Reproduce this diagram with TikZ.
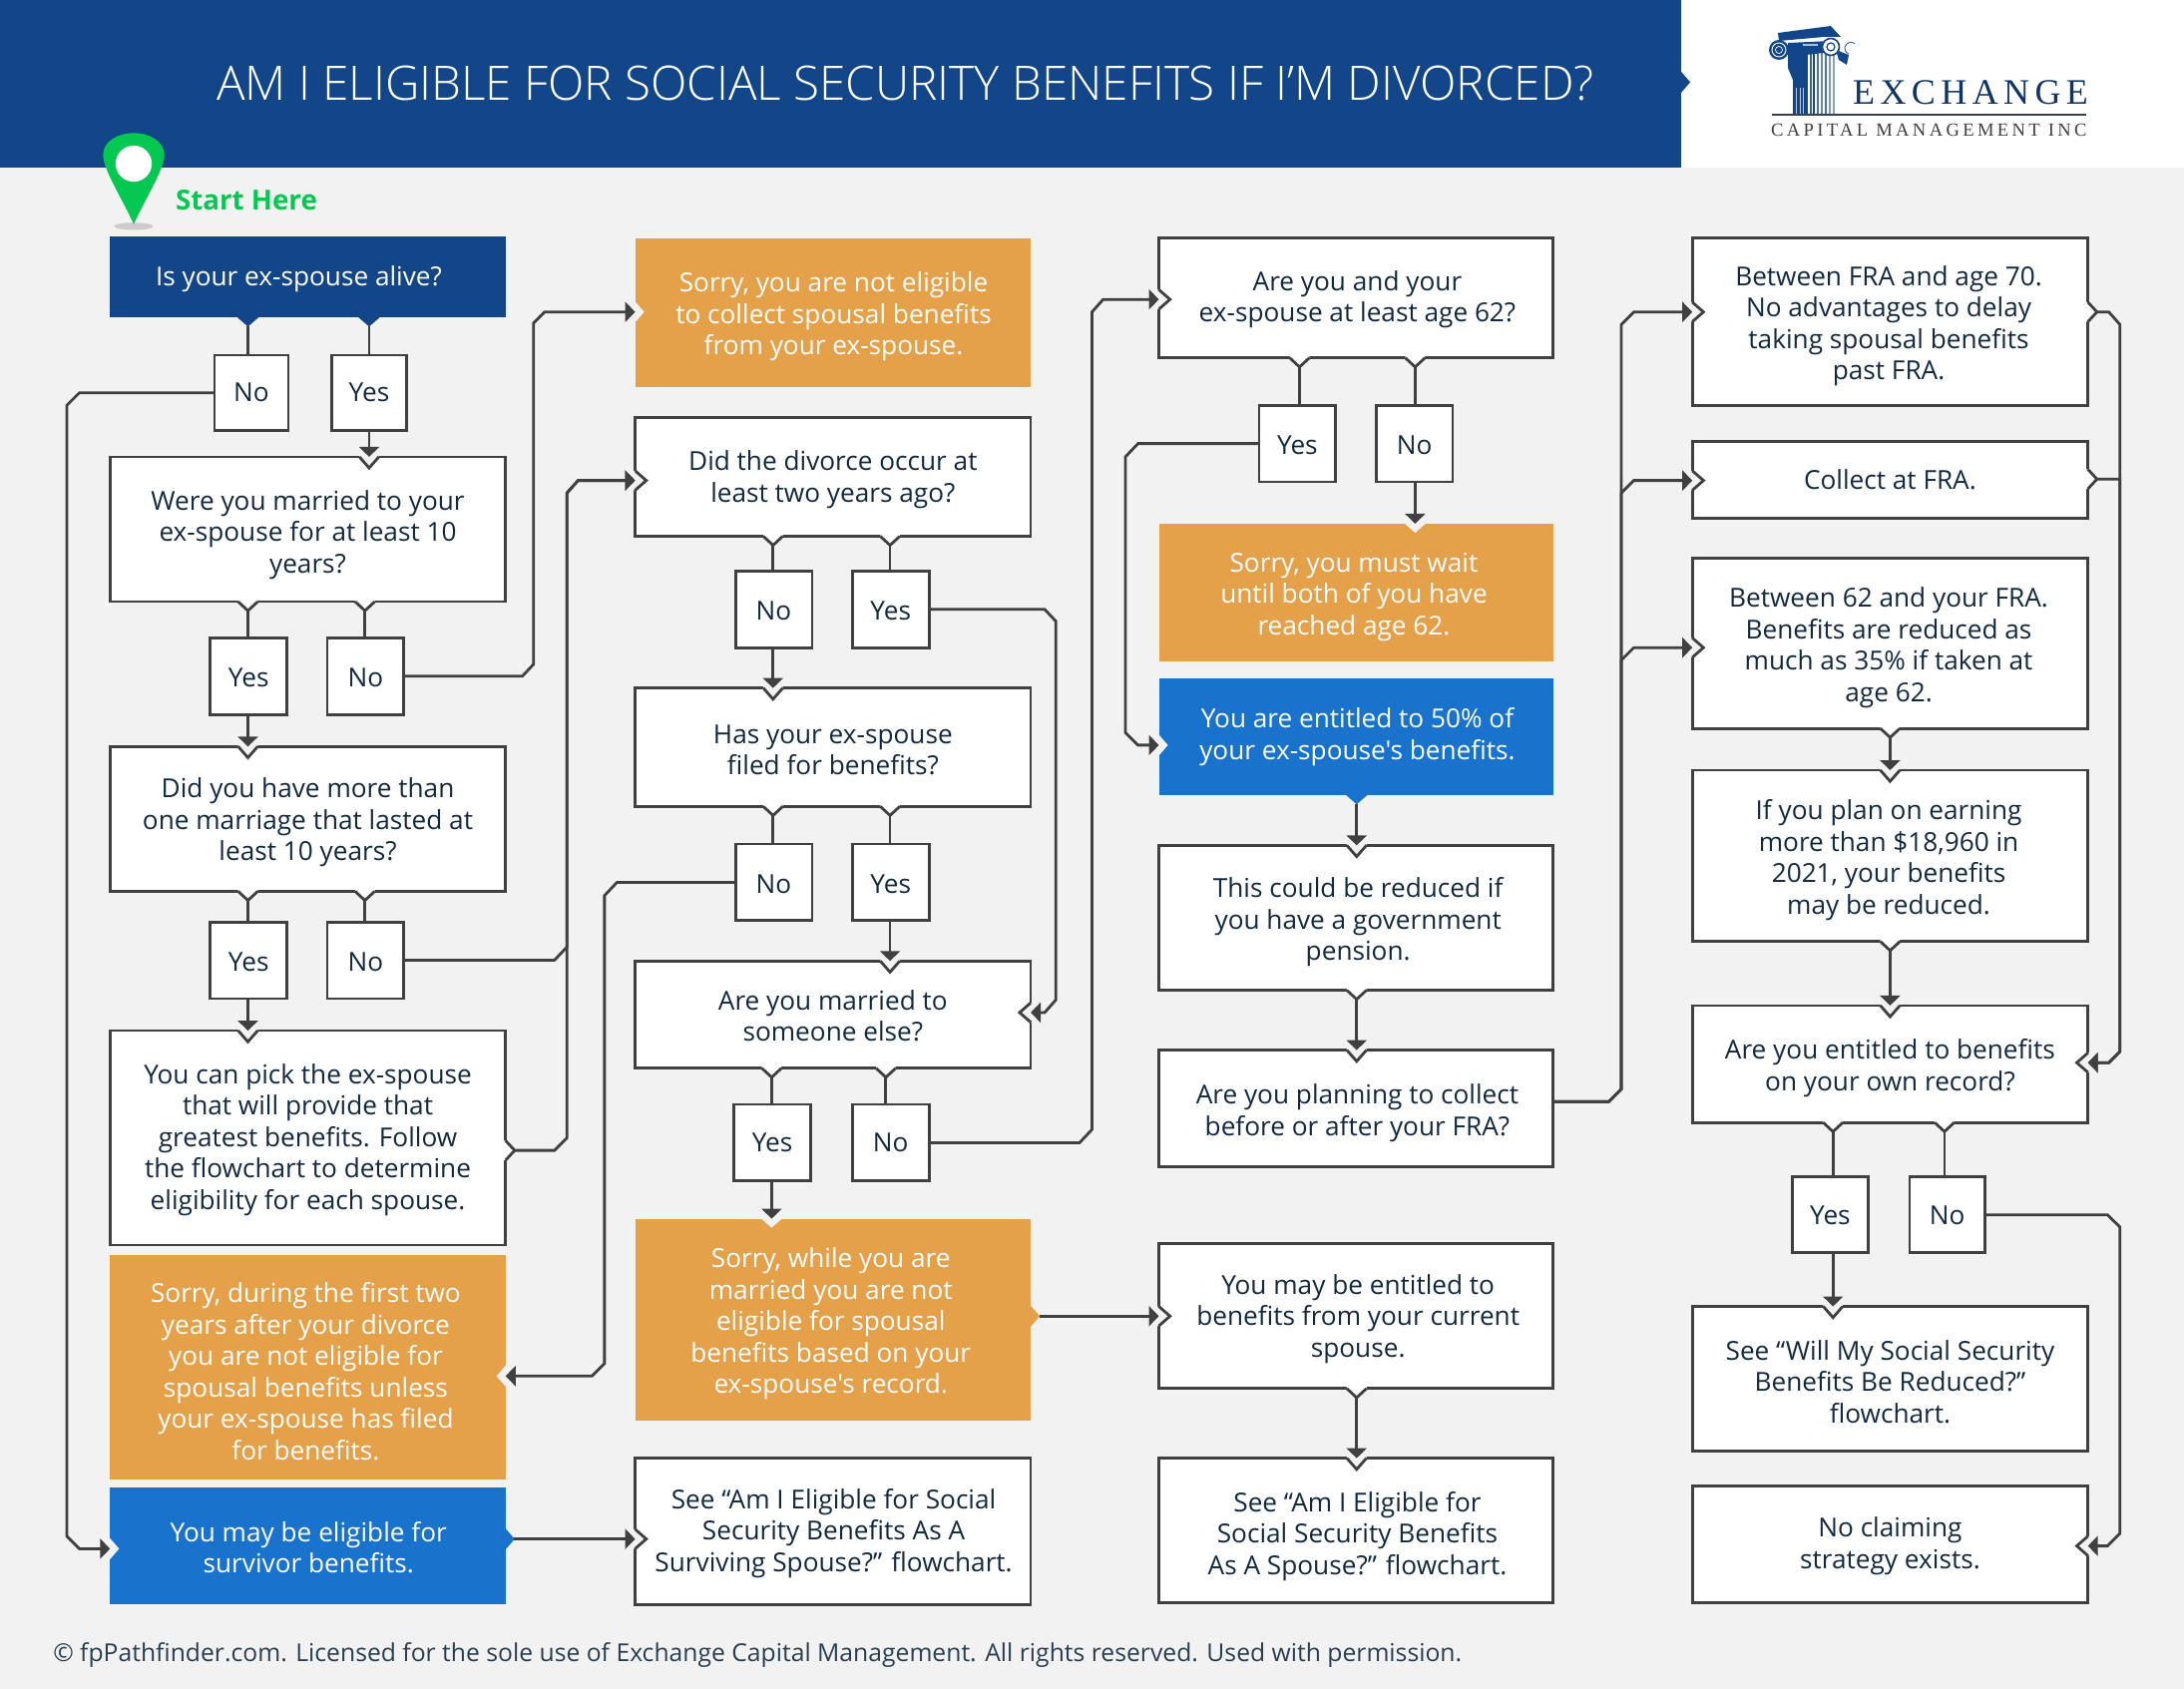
\documentclass[tikz,border=0pt]{standalone}
\usepackage{fontspec}
\usetikzlibrary{arrows.meta}
\setmainfont{Open Sans}
\newfontfamily\openf{Open Sans}
\newfontfamily\titlefont{Open Sans Light}
\newfontfamily\logofa[LetterSpace=15]{Liberation Serif}
\newfontfamily\logofb[LetterSpace=18]{Liberation Serif}
\definecolor{navy}{HTML}{124689}
\definecolor{midblue}{HTML}{1973CD}
\definecolor{amber}{HTML}{E5A04A}
\definecolor{pagebg}{HTML}{F2F2F2}
\definecolor{linegray}{HTML}{404040}
\definecolor{ink}{HTML}{12293F}
\definecolor{pingreen}{HTML}{05C852}
\tikzset{
  boxbase/.style={rectangle,inner sep=0pt,outer sep=0pt},
  whitebox/.style={boxbase,fill=white,draw=linegray,line width=2.8pt,text=ink},
  amberbox/.style={boxbase,fill=amber,text=white},
  bluebox/.style={boxbase,fill=midblue,text=white},
  navybox/.style={boxbase,fill=navy,text=white},
  boxtext/.style={inner sep=0pt,outer sep=0pt,align=center,font=\openf\fontsize{26.2}{31.5}\selectfont},
  conn/.style={draw=linegray,line width=2.8pt},
  arr/.style={conn,-{Triangle[length=10pt,width=20pt]}},
  fromtail/.style={shorten <=8.5pt},
}
\newcommand{\bx}[8][0,2]{%
  \pgfmathsetmacro{\bw}{(#4-#2)*1.39605}%
  \pgfmathsetmacro{\bh}{(#5-#3)*1.39605}%
  \node[#6,minimum width=\bw pt,minimum height=\bh pt] (#7) at ({(#2+#4)/2},{(#3+#5)/2}) {};
  \node[boxtext,#6,fill=none,draw=none,minimum width=0pt,minimum height=0pt,shift={(#1)}] (#7-t) at (#7.center) {#8};}
% tail on an outlined box
\newcommand{\tailmark}[2]{%
  \begin{scope}[shift={(#1)},rotate=#2]
    \fill[white] (-1.5,-7)--(0,-7)--(6.5,0)--(0,7)--(-1.5,7)--cycle;
    \draw[draw=linegray,line width=2.8pt] (0,-7)--(6.5,0)--(0,7);
  \end{scope}}
% tail on a filled box
\newcommand{\tailfill}[3]{%
  \begin{scope}[shift={(#1)},rotate=#2]
    \fill[#3] (-1,-7.5)--(0,-7.5)--(6.5,0)--(0,7.5)--(-1,7.5)--cycle;
  \end{scope}}
% notch in an outlined box
\newcommand{\notchmark}[2]{%
  \begin{scope}[shift={(#1)},rotate=#2]
    \fill[pagebg] (1.6,-7)--(0,-7)--(-8,0)--(0,7)--(1.6,7)--cycle;
    \draw[draw=linegray,line width=2.8pt] (0,-7)--(-8,0)--(0,7);
  \end{scope}}
% notch in a filled box
\newcommand{\notchfill}[2]{%
  \begin{scope}[shift={(#1)},rotate=#2]
    \fill[pagebg] (1,-7.5)--(0,-7.5)--(-6.5,0)--(0,7.5)--(1,7.5)--cycle;
  \end{scope}}
\begin{document}
\begin{tikzpicture}[x=1.39605pt,y=-1.39605pt]
\useasboundingbox (0,0) rectangle (1568,1212.7);
\fill[pagebg] (0,0) rectangle (1568,1212.7);
% header
\fill[white] (1207,0) rectangle (1568,120);
\node[rectangle,fill=navy,minimum width=1685pt,minimum height=167.5pt,inner sep=0pt,outer sep=0pt] (banner) at (603.5,60) {};
\tailfill{banner.east |- 0,59}{0}{navy}
\node[text=white,font=\titlefont\fontsize{47.6}{52}\selectfont] (title) at (650,60) {AM I ELIGIBLE FOR SOCIAL SECURITY BENEFITS IF I’M DIVORCED?};
% logo
\begin{scope}[x=1pt,y=-1pt]
  \foreach \sx/\sw/\sc in {1810/2/100,1813.5/2/85,1817/1.6/100,1821/2/75,1825/2/65,1829/1.6/75,1833/2/55,1837/2.4/50}{
    \fill[navy!\sc] (\sx,52) rectangle ++(\sw,63);}
  \fill[navy] (1782,33)--(1835,26)--(1845,37)--(1828,37)--(1783,41)--cycle;
  \fill[navy] (1792,43)--(1836,41)--(1836,52)--(1810,55)--(1810,115)--(1797,115)--(1797,80)--(1792,68)--cycle;
  \foreach \sx in {1800,1803.5,1807}{\fill[white!70!navy] (\sx,88) rectangle ++(.9,27);}
  \fill[white!65!navy] (1807,44) rectangle (1822,46.5);
  \fill[navy] (1783,50) circle (10);
  \draw[white,line width=.9pt] (1783,50) circle (7);
  \draw[white,line width=.7pt] (1783,50) circle (3.5);
  \fill[navy] (1840,50)--(1853,55)--(1851,65)--(1843,60)--cycle;
  \fill[white] (1835,47) circle (9);
  \draw[navy,line width=1.6pt] (1835,47) circle (8.5);
  \draw[navy,line width=1.2pt] (1835,47) circle (4);
  \draw[navy!80,line width=1pt] (1853,54) arc (-70:130:-6);
  \draw[linegray!85!navy,line width=1.6pt] (1776,115)--(2091,115);
  \node[anchor=base west,inner sep=0pt,text=navy!75!black,font=\logofa\fontsize{36}{36}\selectfont] (lga) at (1857,105) {EXCHANGE};
  \node[anchor=base west,inner sep=0pt,text=linegray,font=\logofb\fontsize{18.6}{19}\selectfont] (lgb) at (1775,137) {CAPITAL MANAGEMENT INC};
\end{scope}
% pin
\fill[black!20] (96,162.5) ellipse (14 and 2.6);
\fill[pingreen] (96,161) .. controls (88,143) and (74,122) .. (74,111) .. controls (74,102) and (84,95.5) .. (96,95.5) .. controls (108,95.5) and (118,102) .. (118,111) .. controls (118,122) and (104,143) .. (96,161) -- cycle;
\fill[white] (96,117.5) circle (13);
\node[anchor=west,inner sep=0pt,text=pingreen,font=\bfseries\fontsize{27.7}{30}\selectfont] (start) at (126,143.5) {Start Here};
% column 1
\bx[-6.5,1]{79}{170}{363}{228}{navybox}{alive}{Is your ex-spouse alive?}
\bx[0,0]{154}{255}{207}{309}{whitebox}{no1}{No}
\bx[0,0]{238}{255}{292}{309}{whitebox}{yes1}{Yes}
\bx[0,4]{79}{328}{363}{432}{whitebox}{q10}{Were you married to your\\ex-spouse for at least 10\\years?}
\bx[0,1]{151}{458}{206}{513}{whitebox}{yes2}{Yes}
\bx[0,1]{235}{458}{290}{513}{whitebox}{no2}{No}
\bx[0,2.5]{79}{536}{363}{640}{whitebox}{multi}{Did you have more than\\one marriage that lasted at\\least 10 years?}
\bx[0,1]{151}{662}{206}{717}{whitebox}{yes3}{Yes}
\bx[0,1]{235}{662}{290}{717}{whitebox}{no3}{No}
\bx[0,1.5]{79}{740}{363}{894}{whitebox}{pick}{You can pick the ex-spouse\\that will provide that\\greatest benefits. Follow\\the flowchart to determine\\eligibility for each spouse.}
\bx[-1.5,3]{79}{901}{363}{1062}{amberbox}{first}{Sorry, during the first two\\years after your divorce\\you are not eligible for\\spousal benefits unless\\your ex-spouse has filed\\for benefits.}
\bx[0.5,1]{79}{1068}{363}{1152}{bluebox}{surv}{You may be eligible for\\survivor benefits.}
% column 2
\bx[0.5,3]{456}{171}{740}{278}{amberbox}{notel}{Sorry, you are not eligible\\to collect spousal benefits\\from your ex-spouse.}
\bx[0,2]{456}{300}{740}{385}{whitebox}{twoyr}{Did the divorce occur at\\least two years ago?}
\bx[0,1]{528}{410}{583}{465}{whitebox}{no4}{No}
\bx[0,1]{612}{410}{667}{465}{whitebox}{yes4}{Yes}
\bx[0,2]{456}{494}{740}{579}{whitebox}{filed}{Has your ex-spouse\\filed for benefits?}
\bx[0,1]{528}{606}{583}{661}{whitebox}{no5}{No}
\bx[0,1]{612}{606}{667}{661}{whitebox}{yes5}{Yes}
\bx[0,1]{456}{690}{740}{767}{whitebox}{else}{Are you married to\\someone else?}
\bx[0,0]{527}{793}{582}{848}{whitebox}{yes6}{Yes}
\bx[0,0]{612}{793}{667}{848}{whitebox}{no6}{No}
\bx[-1.5,3]{456}{875}{740}{1020}{amberbox}{whilem}{Sorry, while you are\\married you are not\\eligible for spousal\\benefits based on your\\ex-spouse's record.}
\bx[0.5,1.5]{456}{1047}{740}{1152}{whitebox}{seesurv}{See “Am I Eligible for Social\\Security Benefits As A\\Surviving Spouse?” flowchart.}
% column 3
\bx[1,1]{832}{171}{1115}{257}{whitebox}{age62}{Are you and your\\ex-spouse at least age 62?}
\bx[0,1]{904}{291}{959}{346}{whitebox}{yes7}{Yes}
\bx[0,1]{988}{291}{1043}{346}{whitebox}{no7}{No}
\bx[-1.5,3]{832}{376}{1115}{475}{amberbox}{wait}{Sorry, you must wait\\until both of you have\\reached age 62.}
\bx[1,0]{832}{487}{1115}{571}{bluebox}{fifty}{You are entitled to 50\% of\\your ex-spouse's benefits.}
\bx[1.5,3]{832}{607}{1115}{711}{whitebox}{gov}{This could be reduced if\\you have a government\\pension.}
\bx[1,3]{832}{754}{1115}{838}{whitebox}{collect}{Are you planning to collect\\before or after your FRA?}
\bx[1.5,2]{832}{893}{1115}{997}{whitebox}{current}{You may be entitled to\\benefits from your current\\spouse.}
\bx[1,4]{832}{1047}{1115}{1151}{whitebox}{seesp}{See “Am I Eligible for\\Social Security Benefits\\As A Spouse?” flowchart.}
% column 4
\bx[-1,3]{1215}{171}{1499}{291}{whitebox}{afra}{Between FRA and age 70.\\No advantages to delay\\taking spousal benefits\\past FRA.}
\bx[0,0]{1215}{317}{1499}{372}{whitebox}{atfra}{Collect at FRA.}
\bx[-1,3]{1215}{401}{1499}{523}{whitebox}{bfra}{Between 62 and your FRA.\\Benefits are reduced as\\much as 35\% if taken at\\age 62.}
\bx[-1,3]{1215}{553}{1499}{676}{whitebox}{earn}{If you plan on earning\\more than \$18,960 in\\2021, your benefits\\may be reduced.}
\bx[0,3]{1215}{722}{1499}{806}{whitebox}{own}{Are you entitled to benefits\\on your own record?}
\bx[0,0.5]{1287}{845}{1341}{899.5}{whitebox}{yes8}{Yes}
\bx[0,0.5]{1371}{845}{1425}{899.5}{whitebox}{no8}{No}
\bx[0,2]{1215}{938}{1499}{1042}{whitebox}{seered}{See “Will My Social Security\\Benefits Be Reduced?”\\flowchart.}
\bx[0,1]{1215}{1067}{1499}{1151}{whitebox}{noclaim}{No claiming\\strategy exists.}
% footer
\node[anchor=west,inner sep=0pt,text=ink!90!white,font=\fontsize{24.7}{30}\selectfont] (foot) at (38,1188) {© fpPathfinder.com. Licensed for the sole use of Exchange Capital Management. All rights reserved. Used with permission.};
% tails
\tailfill{alive.south -| 178,0}{-90}{navy}
\tailfill{alive.south -| 265,0}{-90}{navy}
\tailmark{q10.south -| 178,0}{-90}
\tailmark{q10.south -| 262,0}{-90}
\tailmark{multi.south -| 178,0}{-90}
\tailmark{multi.south -| 262,0}{-90}
\tailmark{pick.east |- 0,826}{0}
\tailfill{surv.east |- 0,1105}{0}{midblue}
\tailmark{twoyr.south -| 555,0}{-90}
\tailmark{twoyr.south -| 639,0}{-90}
\tailmark{filed.south -| 555,0}{-90}
\tailmark{filed.south -| 639,0}{-90}
\tailmark{else.south -| 554,0}{-90}
\tailmark{else.south -| 636,0}{-90}
\tailfill{whilem.east |- 0,945}{0}{amber}
\tailmark{age62.south -| 933,0}{-90}
\tailmark{age62.south -| 1016,0}{-90}
\tailfill{fifty.south -| 974,0}{-90}{midblue}
\tailmark{gov.south -| 974,0}{-90}
\tailmark{current.south -| 974,0}{-90}
\tailmark{afra.east |- 0,224}{0}
\tailmark{atfra.east |- 0,344}{0}
\tailmark{bfra.south -| 1357,0}{-90}
\tailmark{earn.south -| 1357,0}{-90}
\tailmark{own.south -| 1316,0}{-90}
\tailmark{own.south -| 1396,0}{-90}
% notches
\notchmark{q10.north -| 265,0}{90}
\notchmark{multi.north -| 178,0}{90}
\notchmark{pick.north -| 178,0}{90}
\notchmark{filed.north -| 555,0}{90}
\notchmark{else.north -| 639,0}{90}
\notchmark{gov.north -| 974,0}{90}
\notchmark{collect.north -| 974,0}{90}
\notchmark{seesp.north -| 974,0}{90}
\notchmark{earn.north -| 1357,0}{90}
\notchmark{own.north -| 1357,0}{90}
\notchmark{seered.north -| 1316,0}{90}
\notchfill{whilem.north -| 554,0}{90}
\notchfill{wait.north -| 1016,0}{90}
\notchfill{surv.west |- 0,1112}{180}
\notchfill{notel.west |- 0,224}{180}
\notchfill{fifty.west |- 0,535}{180}
\notchmark{twoyr.west |- 0,345}{180}
\notchmark{seesurv.west |- 0,1105}{180}
\notchmark{age62.west |- 0,215}{180}
\notchmark{current.west |- 0,945}{180}
\notchmark{afra.west |- 0,224}{180}
\notchmark{atfra.west |- 0,345}{180}
\notchmark{bfra.west |- 0,465}{180}
\notchfill{first.east |- 0,988}{0}
\notchmark{else.east |- 0,727}{0}
\notchmark{own.east |- 0,763}{0}
\notchmark{noclaim.east |- 0,1110}{0}
% connectors
\draw[conn,fromtail] (alive.south -| 178,0) -- (no1.north -| 178,0);
\draw[conn,fromtail] (alive.south -| 265,0) -- (yes1.north -| 265,0);
\draw[arr] (no1.west) -- (57,282) -- (48,291) -- (48,1103) -- (57,1112) -- (surv.west |- 0,1112);
\draw[arr] (yes1.south -| 265,0) -- (q10.north -| 265,0);
\draw[conn,fromtail] (q10.south -| 178,0) -- (yes2.north -| 178,0);
\draw[conn,fromtail] (q10.south -| 262,0) -- (no2.north -| 262,0);
\draw[arr] (yes2.south -| 178,0) -- (multi.north -| 178,0);
\draw[arr] (no2.east) -- (375,485.5) -- (383,477) -- (383,232) -- (391,224) -- (notel.west |- 0,224);
\draw[conn,fromtail] (multi.south -| 178,0) -- (yes3.north -| 178,0);
\draw[conn,fromtail] (multi.south -| 262,0) -- (no3.north -| 262,0);
\draw[arr] (yes3.south -| 178,0) -- (pick.north -| 178,0);
\draw[arr] (no3.east) -- (398,689.5) -- (407,680) -- (407,354) -- (415,345) -- (twoyr.west |- 0,345);
\draw[arr,fromtail] (pick.east |- 0,826) -- (398,826) -- (407,817) -- (407,354) -- (415,345) -- (twoyr.west |- 0,345);
\draw[arr,fromtail] (surv.east |- 0,1105) -- (seesurv.west |- 0,1105);
\draw[conn,fromtail] (twoyr.south -| 555,0) -- (no4.north -| 555,0);
\draw[conn,fromtail] (twoyr.south -| 639,0) -- (yes4.north -| 639,0);
\draw[arr] (no4.south -| 555,0) -- (filed.north -| 555,0);
\draw[arr] (yes4.east) -- (750,437.5) -- (758,446) -- (758,718) -- (750,727) -- (else.east |- 0,727);
\draw[conn,fromtail] (filed.south -| 555,0) -- (no5.north -| 555,0);
\draw[conn,fromtail] (filed.south -| 639,0) -- (yes5.north -| 639,0);
\draw[arr] (yes5.south -| 639,0) -- (else.north -| 639,0);
\draw[arr] (no5.west) -- (443,633.5) -- (434,643) -- (434,979) -- (425,988) -- (first.east |- 0,988);
\draw[conn,fromtail] (else.south -| 554,0) -- (yes6.north -| 554,0);
\draw[conn,fromtail] (else.south -| 636,0) -- (no6.north -| 636,0);
\draw[arr] (yes6.south -| 554,0) -- (whilem.north -| 554,0);
\draw[arr] (no6.east) -- (775,820.5) -- (784,811) -- (784,224) -- (792,215) -- (age62.west |- 0,215);
\draw[arr,fromtail] (whilem.east |- 0,945) -- (current.west |- 0,945);
\draw[conn,fromtail] (age62.south -| 933,0) -- (yes7.north -| 933,0);
\draw[conn,fromtail] (age62.south -| 1016,0) -- (no7.north -| 1016,0);
\draw[arr] (no7.south -| 1016,0) -- (wait.north -| 1016,0);
\draw[arr] (yes7.west) -- (817,318.5) -- (808,328) -- (808,526) -- (817,535) -- (fifty.west |- 0,535);
\draw[arr,fromtail] (fifty.south -| 974,0) -- (gov.north -| 974,0);
\draw[arr,fromtail] (gov.south -| 974,0) -- (collect.north -| 974,0);
\draw[arr,fromtail] (current.south -| 974,0) -- (seesp.north -| 974,0);
\draw[arr] (collect.east |- 0,791) -- (1155,791) -- (1164,782) -- (1164,233) -- (1173,224) -- (afra.west |- 0,224);
\draw[arr] (collect.east |- 0,791) -- (1155,791) -- (1164,782) -- (1164,354) -- (1173,345) -- (atfra.west |- 0,345);
\draw[arr] (collect.east |- 0,791) -- (1155,791) -- (1164,782) -- (1164,474) -- (1173,465) -- (bfra.west |- 0,465);
\draw[arr,fromtail] (afra.east |- 0,224) -- (1514,224) -- (1522,233) -- (1522,755) -- (1514,763) -- (own.east |- 0,763);
\draw[arr,fromtail] (atfra.east |- 0,344) -- (1522,344) -- (1522,755) -- (1514,763) -- (own.east |- 0,763);
\draw[arr,fromtail] (bfra.south -| 1357,0) -- (earn.north -| 1357,0);
\draw[arr,fromtail] (earn.south -| 1357,0) -- (own.north -| 1357,0);
\draw[conn,fromtail] (own.south -| 1316,0) -- (yes8.north -| 1316,0);
\draw[conn,fromtail] (own.south -| 1396,0) -- (no8.north -| 1396,0);
\draw[arr] (yes8.south -| 1316,0) -- (seered.north -| 1316,0);
\draw[arr] (no8.east) -- (1513,872.25) -- (1522,881) -- (1522,1101) -- (1513,1110) -- (noclaim.east |- 0,1110);
\end{tikzpicture}
\end{document}
